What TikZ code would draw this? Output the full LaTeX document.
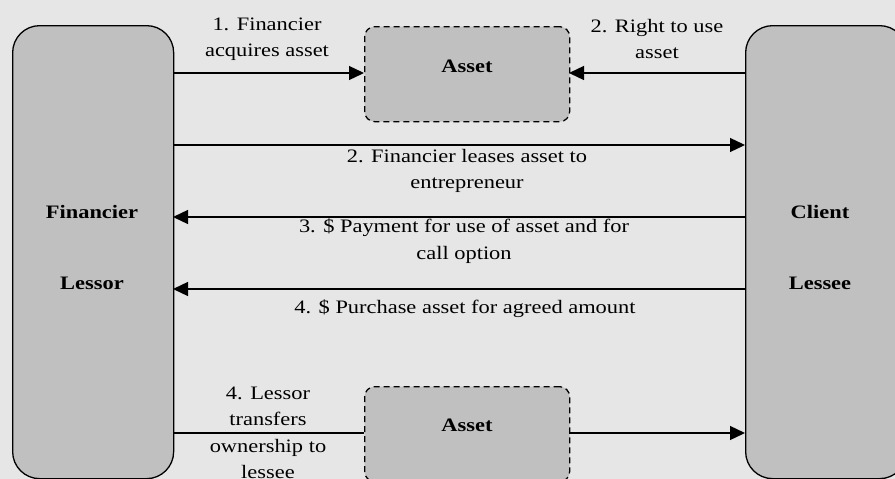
\documentclass[tikz,border=0pt]{standalone}
\usepackage{fontspec}
\setmainfont{Liberation Serif}[FakeStretch=1.18]
\usetikzlibrary{arrows.meta}
\definecolor{bgc}{HTML}{E6E6E6}
\definecolor{boxc}{HTML}{C0C0C0}
\begin{document}
\begin{tikzpicture}[x=1pt,y=-1pt,
  font=\fontsize{19}{26.5}\selectfont,
  party/.style={draw=black,line width=1.3pt,fill=boxc,rounded corners=27pt,minimum width=161pt,minimum height=453pt,anchor=north west,inner sep=0pt},
  assetbox/.style={draw=black,line width=1.3pt,fill=boxc,dashed,dash pattern=on 6pt off 4pt,rounded corners=10pt,minimum width=205pt,minimum height=95pt,anchor=north west,inner sep=0pt},
  flow/.style={line width=1.3pt,-{Triangle[length=15pt,width=14pt]}},
  lbl/.style={align=center,inner sep=0pt},
  bl/.style={font=\fontsize{19}{26}\selectfont\bfseries,inner sep=0pt}]
\fill[bgc] (0,0) rectangle (895,479);
\useasboundingbox (0,0) rectangle (895,479);
\begin{scope}
\clip (0,0) rectangle (895,479);
\node[party] (L) at (12,25) {};
\node[party] (R) at (745,25) {};
\node[assetbox] (A1) at (364,26) {};
\node[assetbox] (A2) at (364,386) {};
\end{scope}
\node[bl] (fin) at (92,212) {Financier};
\node[bl] (les) at (92,283) {Lessor};
\node[bl] (cli) at (820,212) {Client};
\node[bl] (lse) at (820,283) {Lessee};
\node[bl] (a1t) at (467,66) {Asset};
\node[bl] (a2t) at (467,425) {Asset};
\coordinate (l1) at (173,73);
\coordinate (r1) at (745,73);
\coordinate (l2) at (173,145);
\coordinate (r2) at (745,145);
\coordinate (l3) at (173,217);
\coordinate (r3) at (745,217);
\coordinate (l4) at (173,289);
\coordinate (r4) at (745,289);
\coordinate (l5) at (173,433);
\coordinate (r5) at (745,433);
\coordinate (a1l) at (364,73);
\coordinate (a1r) at (569,73);
\coordinate (a2l) at (364,433);
\coordinate (a2r) at (569,433);
\draw[flow] (l1) -- (a1l);
\draw[flow] (r1) -- (a1r);
\draw[flow] (l2) -- (r2);
\draw[flow] (r3) -- (l3);
\draw[flow] (r4) -- (l4);
\draw[line width=1.3pt] (l5) -- (a2l);
\draw[flow] (a2r) -- (r5);
\node[lbl] (t1) at (267,39) {1. Financier\\acquires asset};
\node[lbl] (t2) at (657,39) {2. Right to use\\asset};
\node[lbl] (t3) at (467,171) {2. Financier leases asset to\\entrepreneur};
\node[lbl] (t4) at (464,241) {3. \$ Payment for use of asset and for\\call option};
\node[lbl] (t5) at (465,309) {4. \$ Purchase asset for agreed amount};
\node[lbl] (t6) at (268,433) {4. Lessor\\transfers\\ownership to\\lessee};
\end{tikzpicture}
\end{document}
